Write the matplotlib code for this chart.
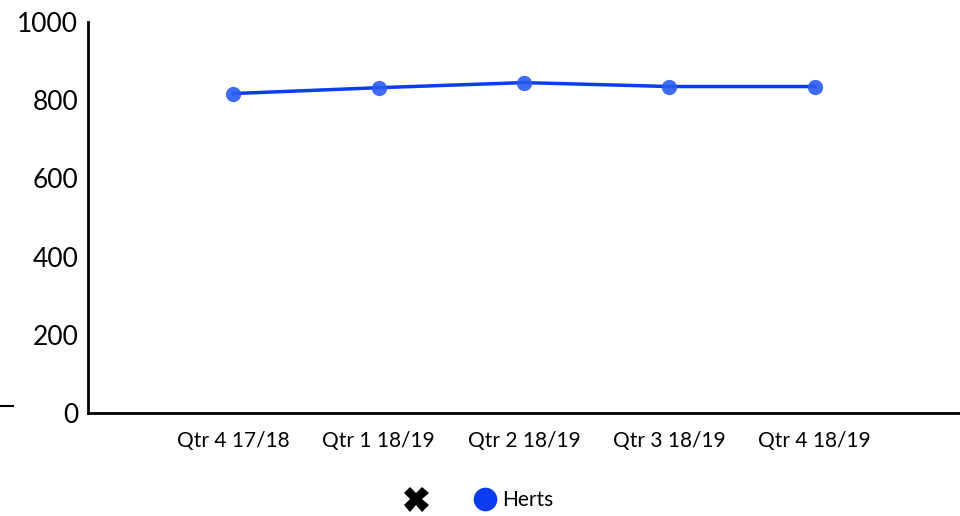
import matplotlib
matplotlib.use("Agg")
import matplotlib.pyplot as plt
from matplotlib.lines import Line2D

categories = ["Qtr 4 17/18", "Qtr 1 18/19", "Qtr 2 18/19", "Qtr 3 18/19", "Qtr 4 18/19"]
herts = [817, 832, 845, 835, 835]
y_ticks = [0, 200, 400, 600, 800, 1000]
series_name = "Herts"

plt.rcParams['font.family'] = ['Lato', 'DejaVu Sans']

fig = plt.figure(figsize=(9.6, 5.16), dpi=100)
ax = fig.add_axes([88/960, 103/516, 872/960, 391/516])

x = list(range(len(categories)))
ax.plot(x, herts, color='#0a3cf0', lw=2.5, zorder=2)
ax.plot(x, herts, ls='none', marker='o', ms=11, color='#2a5cf2', alpha=0.9,
        markeredgewidth=0, zorder=3)

ax.set_xlim(-1, 5)
ax.set_ylim(0, 1000)
ax.set_yticks(y_ticks)
ax.set_yticklabels([str(v) for v in y_ticks], fontsize=19)
ax.set_xticks(x)
ax.set_xticklabels(categories, fontsize=15)
ax.tick_params(axis='both', length=0)
ax.tick_params(axis='x', pad=13)
ax.tick_params(axis='y', pad=7)
for s in ['top', 'right']:
    ax.spines[s].set_visible(False)
for s in ['left', 'bottom']:
    ax.spines[s].set_linewidth(2)
    ax.spines[s].set_color('black')

# small stray dash at left
fig.add_artist(Line2D([0, 13/960], [1 - 406/516, 1 - 406/516], color='black', lw=1.5))

handles = [
    Line2D([], [], ls='none', marker='X', color='black', ms=18, markeredgewidth=0),
    Line2D([], [], ls='none', marker='o', color='#0a3cf0', ms=17, markeredgewidth=0, label=series_name),
]
leg = fig.legend(handles=handles, labels=['', series_name], loc='center',
                 bbox_to_anchor=(478/960, 1 - 500/516), ncol=2, frameon=False,
                 fontsize=15, handletextpad=0.2, columnspacing=1.8, handlelength=1.3)

fig.savefig("out.png", dpi=100)
